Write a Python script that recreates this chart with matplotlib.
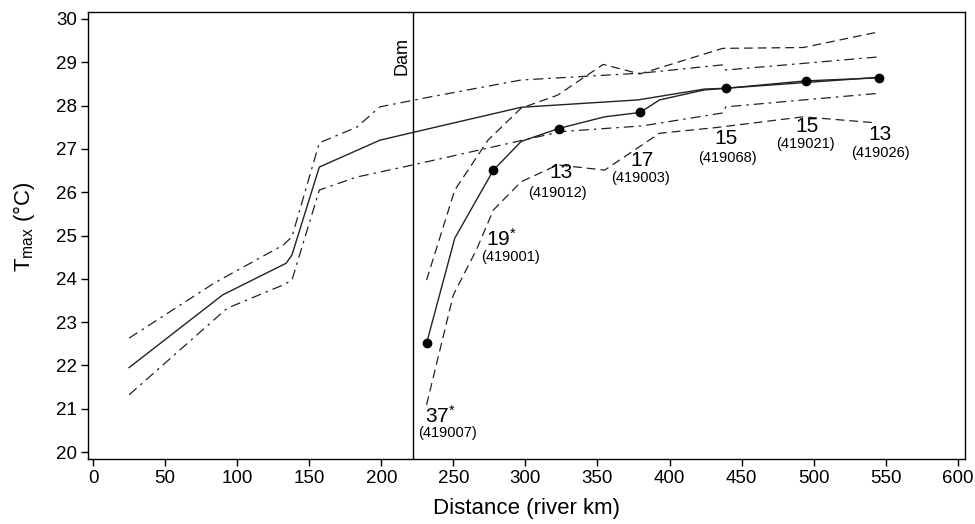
import matplotlib
matplotlib.use('Agg')
import matplotlib.pyplot as plt

plt.rcParams['font.family'] = ['Liberation Sans', 'DejaVu Sans']
plt.rcParams['mathtext.fontset'] = 'custom'
plt.rcParams['mathtext.rm'] = 'Liberation Sans'
plt.rcParams['mathtext.it'] = 'Liberation Sans'

# regional curve (upstream model) - mean and dash-dot bounds
up_km = [25, 90, 134, 138, 157, 199, 222, 297, 378, 424, 439, 544]
up_T = [21.95, 23.63, 24.36, 24.55, 26.58, 27.2, 27.38, 27.96, 28.13, 28.38, 28.40, 28.65]
up_hi_km = [25, 84, 132, 138, 157, 183, 199, 234, 297, 381, 437, 439, 544]
up_hi_T = [22.63, 23.9, 24.78, 24.97, 27.14, 27.5, 27.97, 28.2, 28.59, 28.75, 28.94, 28.82, 29.12]
up_lo_km = [25, 93, 132, 138, 157, 183, 222, 325, 381, 437, 439, 544]
up_lo_T = [21.32, 23.32, 23.86, 23.97, 26.05, 26.35, 26.63, 27.4, 27.53, 27.83, 27.97, 28.28]

# downstream of dam - mean and dashed bounds
dn_km = [231.4, 251, 277.8, 297, 323, 355, 379.6, 393, 424, 439.4, 494.5, 545.4]
dn_T = [22.51, 24.94, 26.51, 27.17, 27.47, 27.74, 27.84, 28.13, 28.36, 28.40, 28.57, 28.64]
dn_hi_km = [231.4, 251, 274, 297, 322.3, 354, 379.4, 436.8, 492.7, 543.6]
dn_hi_T = [23.97, 26.05, 27.2, 27.94, 28.24, 28.95, 28.73, 29.32, 29.34, 29.69]
dn_lo_km = [231.4, 250, 266, 277.8, 297, 322.3, 355, 393, 431.7, 492.7, 543.6]
dn_lo_T = [21.09, 23.63, 24.67, 25.59, 26.24, 26.63, 26.51, 27.36, 27.49, 27.74, 27.60]

# gauging stations
st_km = [231.4, 277.8, 323, 379.6, 439.4, 494.5, 545.4]
st_T = [22.51, 26.51, 27.47, 27.84, 28.40, 28.57, 28.64]
st_n = ['37', '19', '13', '17', '15', '15', '13']
st_star = [True, True, False, False, False, False, False]
st_id = ['419007', '419001', '419012', '419003', '419068', '419021', '419026']
# label offsets in pixels (number, id)
num_off = [(14, 72), (8, 69), (2, 44), (2, 48), (0, 50), (1, 46), (1, 57)]
id_off = [(21, 90), (17, 87), (-1, 64), (0, 66), (1, 70), (0, 63), (1, 75)]

dam_km = 222

fig = plt.figure(figsize=(9.75, 5.24), dpi=100)
ax = fig.add_axes([88/975, 1-459/524, 877/975, 447/524])

lc = '#222222'
ax.plot(up_km, up_T, color=lc, lw=1.0)
ax.plot(up_hi_km, up_hi_T, color=lc, lw=0.9, dashes=(8, 4, 2, 4))
ax.plot(up_lo_km, up_lo_T, color=lc, lw=0.9, dashes=(8, 4, 2, 4))
ax.plot(dn_km, dn_T, color=lc, lw=1.0)
ax.plot(dn_hi_km, dn_hi_T, color=lc, lw=0.9, dashes=(7, 4))
ax.plot(dn_lo_km, dn_lo_T, color=lc, lw=0.9, dashes=(7, 4))
ax.plot(st_km, st_T, 'o', color='black', ms=6)

ax.axvline(dam_km, color='black', lw=1)
ax.annotate('Dam', xy=(dam_km, 0.945), xycoords=('data', 'axes fraction'),
            xytext=(-3, 0), textcoords='offset pixels', rotation=90,
            ha='right', va='top', fontsize=13)

for i in range(len(st_km)):
    txt = st_n[i] + (r'$^{*}$' if st_star[i] else '')
    ax.annotate(txt, xy=(st_km[i], st_T[i]), xytext=(num_off[i][0], -num_off[i][1]),
                textcoords='offset pixels', ha='center', va='center', fontsize=15)
    ax.annotate('(' + st_id[i] + ')', xy=(st_km[i], st_T[i]),
                xytext=(id_off[i][0], -id_off[i][1]),
                textcoords='offset pixels', ha='center', va='center', fontsize=10.5)

ax.set_xlim(-3.5, 605)
ax.set_ylim(19.84, 30.16)
ax.set_xticks(range(0, 601, 50))
ax.set_yticks(range(20, 31))
ax.tick_params(direction='out', length=5, width=1, labelsize=13.5, pad=3)
for s in ax.spines.values():
    s.set_linewidth(1)

ax.set_xlabel('Distance (river km)', fontsize=16, labelpad=8)
ax.set_ylabel(r'T$_{\mathrm{max}}$ (°C)', fontsize=16)
ax.yaxis.set_label_coords(-0.058, 0.52)

fig.savefig('out.png', dpi=100)
